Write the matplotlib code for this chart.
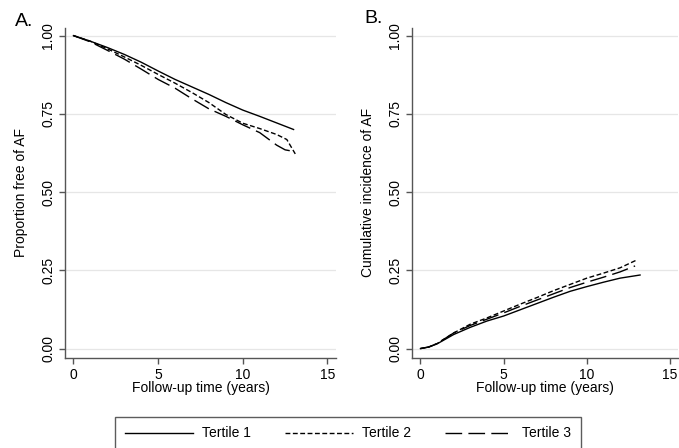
import matplotlib
matplotlib.use('Agg')
import matplotlib.pyplot as plt

plt.rcParams['font.family'] = ['Liberation Sans', 'DejaVu Sans']
plt.rcParams['font.size'] = 10

# panel A: proportion free of AF
t_a1 = [0, 1, 2, 3, 4, 5, 6, 7, 8, 9, 10, 11, 12, 13]
free_t1 = [1.0, 0.982, 0.962, 0.940, 0.915, 0.887, 0.860, 0.836, 0.812, 0.786, 0.762, 0.742, 0.721, 0.700]
t_a2 = [0, 1, 2, 3, 4, 5, 6, 7, 8, 9, 10, 11, 12, 12.6, 13.1]
free_t2 = [1.0, 0.982, 0.958, 0.932, 0.905, 0.876, 0.848, 0.818, 0.786, 0.748, 0.720, 0.703, 0.684, 0.668, 0.622]
t_a3 = [0, 1, 2, 3, 4, 5, 6, 7, 8, 9, 10, 11, 12, 12.5, 13.0]
free_t3 = [1.0, 0.980, 0.953, 0.925, 0.893, 0.860, 0.832, 0.798, 0.766, 0.742, 0.715, 0.690, 0.650, 0.635, 0.630]

# panel B: cumulative incidence of AF
t_b1 = [0, 0.5, 1, 2, 3, 4, 5, 6, 7, 8, 9, 10, 11, 12, 13.2]
inc_t1 = [0, 0.005, 0.015, 0.045, 0.068, 0.088, 0.104, 0.124, 0.144, 0.164, 0.183, 0.198, 0.212, 0.225, 0.235]
t_b2 = [0, 0.5, 1, 2, 3, 4, 5, 6, 7, 8, 9, 10, 11, 12, 13.0]
inc_t2 = [0, 0.005, 0.016, 0.050, 0.078, 0.098, 0.120, 0.142, 0.163, 0.185, 0.205, 0.225, 0.241, 0.258, 0.283]
t_b3 = [0, 0.5, 1, 2, 3, 4, 5, 6, 7, 8, 9, 10, 11, 12, 12.9]
inc_t3 = [0, 0.005, 0.016, 0.050, 0.074, 0.094, 0.114, 0.135, 0.155, 0.175, 0.195, 0.212, 0.228, 0.245, 0.264]

labels = ['Tertile 1', 'Tertile 2', 'Tertile 3']
styles = ['-', (0, (3.5, 1.8)), (0, (12, 4.5))]
xticks = [0, 5, 10, 15]
yticks = [0.0, 0.25, 0.5, 0.75, 1.0]
ytick_labels = ['0.00', '0.25', '0.50', '0.75', '1.00']

fig = plt.figure(figsize=(6.79, 4.48), dpi=100)
ax1 = fig.add_axes([0.0957, 0.201, 0.399, 0.737])
ax2 = fig.add_axes([0.607, 0.201, 0.392, 0.737])

series_a = [(t_a1, free_t1), (t_a2, free_t2), (t_a3, free_t3)]
series_b = [(t_b1, inc_t1), (t_b2, inc_t2), (t_b3, inc_t3)]

for ax, series, ylab, ylab_x in [(ax1, series_a, 'Proportion free of AF', -0.135),
                                 (ax2, series_b, 'Cumulative incidence of AF', -0.14)]:
    for (t, y), ls, lab in zip(series, styles, labels):
        ax.plot(t, y, color='black', lw=1.0, linestyle=ls, label=lab)
    ax.set_xlim(-0.5, 15.5)
    ax.set_ylim(-0.03, 1.025)
    ax.set_xticks(xticks)
    ax.set_yticks(yticks)
    ax.set_yticklabels(ytick_labels, rotation=90, va='center')
    for yv in yticks:
        ax.axhline(yv, color='#e6e6e6', lw=0.9, zorder=0)
    for s in ['top', 'right']:
        ax.spines[s].set_visible(False)
    for s in ['left', 'bottom']:
        ax.spines[s].set_color('#555555')
        ax.spines[s].set_linewidth(1.0)
    ax.tick_params(color='#555555', length=4, width=1.0, pad=3)
    ax.set_xlabel('Follow-up time (years)')
    ax.xaxis.set_label_coords(0.5, -0.07)
    ax.set_ylabel(ylab)
    ax.yaxis.set_label_coords(ylab_x, 0.5)

fig.text(0.022, 0.952, 'A.', fontsize=14, va='center')
fig.text(0.537, 0.958, 'B.', fontsize=14, va='center')

handles, _ = ax1.get_legend_handles_labels()
leg = fig.legend(handles, labels, loc='upper center', bbox_to_anchor=(0.5125, 0.07),
                 ncol=3, frameon=True, fancybox=False, edgecolor='#333333',
                 handlelength=4.9, handletextpad=0.6, columnspacing=2.5,
                 borderpad=0.7, borderaxespad=0)
leg.get_frame().set_linewidth(1.0)

fig.savefig('out.png', dpi=100)
